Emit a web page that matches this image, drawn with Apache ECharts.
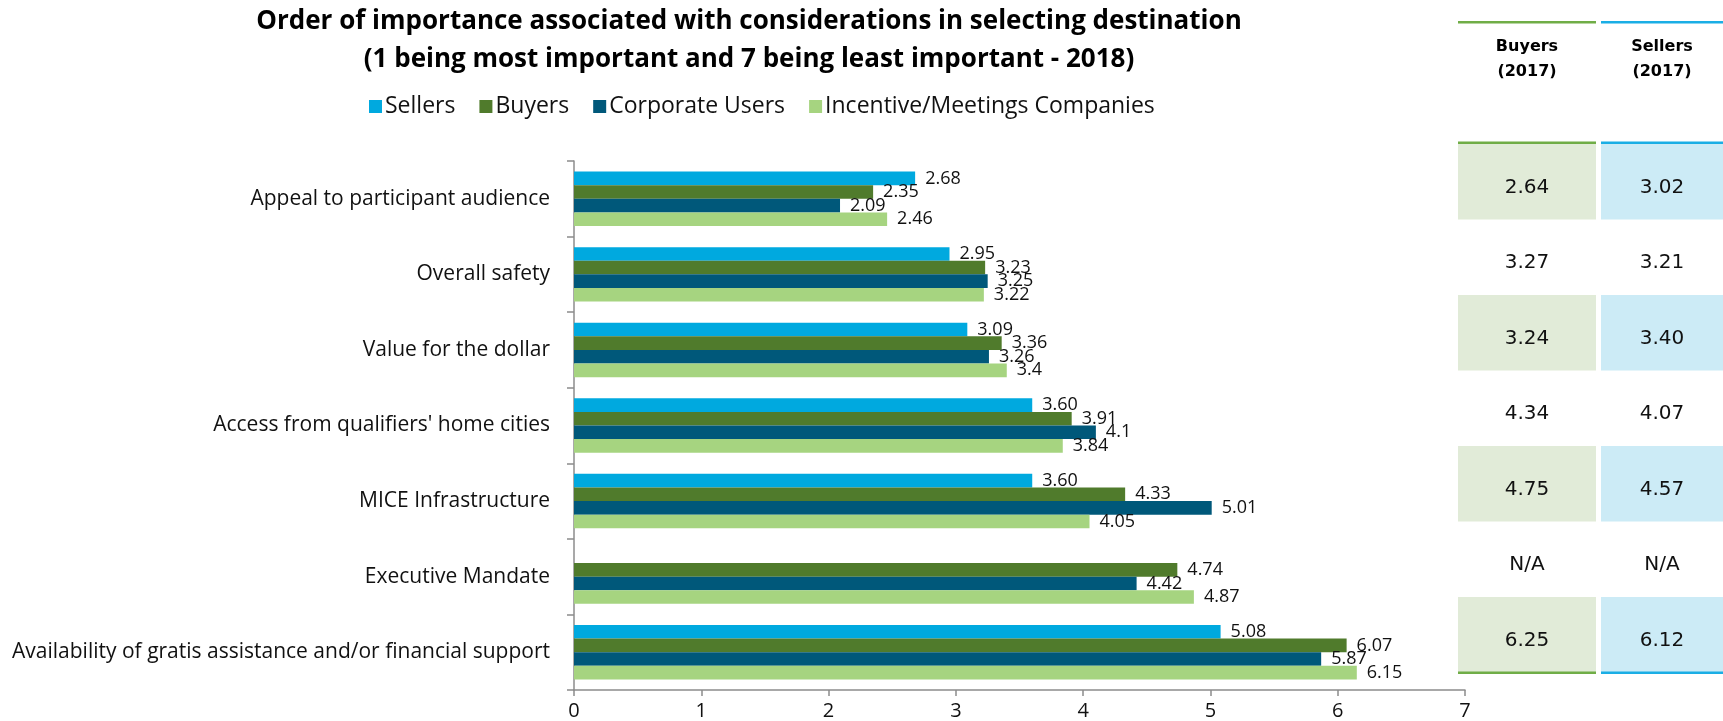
<!DOCTYPE html>
<html><head><meta charset="utf-8">
<script src="https://cdn.jsdelivr.net/npm/echarts@6/dist/echarts.min.js"></script>
<style>html,body{margin:0;padding:0;background:#fff}#c{width:1723px;height:721px}</style>
</head><body><div id="c"></div>
<script>
const categories = ['Appeal to participant audience','Overall safety','Value for the dollar',"Access from qualifiers' home cities",'MICE Infrastructure','Executive Mandate','Availability of gratis assistance and/or financial support'];
const seriesNames = ['Sellers','Buyers','Corporate Users','Incentive/Meetings Companies'];
const sellers = [2.68, 2.95, 3.09, 3.60, 3.60, null, 5.08];
const buyers = [2.35, 3.23, 3.36, 3.91, 4.33, 4.74, 6.07];
const corporate = [2.09, 3.25, 3.26, 4.1, 5.01, 4.42, 5.87];
const incentive = [2.46, 3.22, 3.4, 3.84, 4.05, 4.87, 6.15];
const xTicks = [0,1,2,3,4,5,6,7];
const tableHeaders = ['Buyers\n(2017)','Sellers\n(2017)'];
const buyers2017 = ['2.64','3.27','3.24','4.34','4.75','N/A','6.25'];
const sellers2017 = ['3.02','3.21','3.40','4.07','4.57','N/A','6.12'];

const colors = ['#00A9DF','#507B2C','#00587A','#A6D480'];
const F = '"Open Sans", sans-serif';
const chart = echarts.init(document.getElementById('c'));

const fmt = [
  p => p.value == null ? '' : Number(p.value).toFixed(2),
  p => p.value == null ? '' : Number(p.value).toFixed(2),
  p => p.value == null ? '' : String(p.value),
  p => p.value == null ? '' : String(p.value)
];
const allData = [sellers, buyers, corporate, incentive];

// table graphics
const cols = [
  {x: 1458, w: 138, line: '#70AD47', fill: '#E1EBD8', vals: buyers2017},
  {x: 1601, w: 122, line: '#1AAEE5', fill: '#CCEBF6', vals: sellers2017}
];
const tableTop = 143, rowH = 75.5;
const graphics = [];
cols.forEach((c, ci) => {
  graphics.push({type:'rect', shape:{x:c.x, y:21, width:c.w, height:2.5}, style:{fill:c.line}, silent:true});
  graphics.push({type:'text', x:c.x + c.w/2, y:59, style:{text:tableHeaders[ci], fill:'#000', font:'bold 16px "DejaVu Sans"', align:'center', verticalAlign:'middle', lineHeight:25}, silent:true});
  graphics.push({type:'rect', shape:{x:c.x, y:tableTop-1.5, width:c.w, height:2.5}, style:{fill:c.line}, silent:true});
  c.vals.forEach((v, ri) => {
    const y = tableTop + 1 + ri*rowH;
    if (ri % 2 === 0) graphics.push({type:'rect', shape:{x:c.x, y:y, width:c.w, height:rowH}, style:{fill:c.fill}, silent:true});
    graphics.push({type:'text', x:c.x + c.w/2, y:y + rowH/2 + 6, style:{text:v, fill:'#111', font:'20px "DejaVu Sans"', align:'center', verticalAlign:'middle'}, silent:true});
  });
  graphics.push({type:'rect', shape:{x:c.x, y:tableTop + 1 + 7*rowH - 1, width:c.w, height:2.5}, style:{fill:c.line}, silent:true});
});

chart.setOption({
  animation: false,
  color: colors,
  title: {
    text: 'Order of importance associated with considerations in selecting destination\n(1 being most important and 7 being least important - 2018)',
    left: 744, top: -2, textAlign: 'center',
    textStyle: {fontFamily: F, fontWeight: 'bold', fontSize: 26, lineHeight: 38, color: '#000'}
  },
  legend: {
    data: seriesNames, top: 90, left: 364,
    itemWidth: 13, itemHeight: 13, itemGap: 24, icon: 'rect',
    textStyle: {fontFamily: F, fontSize: 23, color: '#111', padding: [0,0,0,-2]}
  },
  grid: {left: 574, right: 258, top: 161, bottom: 31, containLabel: false},
  xAxis: {
    type: 'value', min: 0, max: 7, interval: 1,
    axisLine: {show: true, lineStyle: {color: '#8C8C8C', width: 1.5}},
    axisTick: {show: true, length: 6, lineStyle: {color: '#8C8C8C', width: 1.5}},
    splitLine: {show: false},
    axisLabel: {fontFamily: F, fontSize: 20, color: '#111', margin: 11,
      formatter: v => xTicks.includes(v) ? String(v) : ''}
  },
  yAxis: {
    type: 'category', data: categories, inverse: true,
    axisLine: {show: true, lineStyle: {color: '#8C8C8C', width: 1.5}},
    axisTick: {show: true, length: 7, lineStyle: {color: '#8C8C8C', width: 1.5}},
    axisLabel: {fontFamily: F, fontSize: 21, color: '#111', margin: 24}
  },
  series: seriesNames.map((n, i) => ({
    name: n, type: 'bar', data: allData[i],
    barGap: '0%', barCategoryGap: '28%',
    itemStyle: {color: colors[i]},
    label: {show: true, position: 'right', distance: 10, formatter: fmt[i],
      fontFamily: F, fontSize: 18, color: '#111'}
  })),
  graphic: graphics
});
</script></body></html>
